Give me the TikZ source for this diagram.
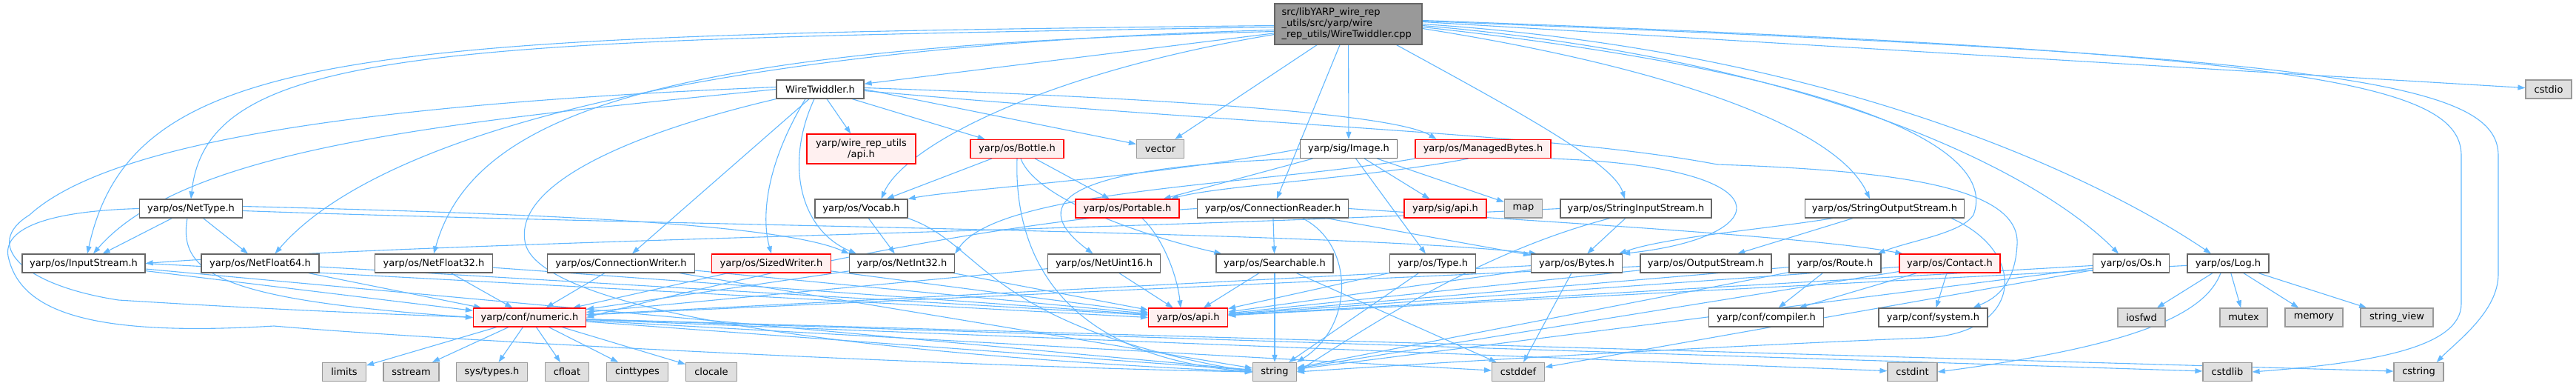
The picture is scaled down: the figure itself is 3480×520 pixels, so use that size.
\documentclass[tikz,border=0pt]{standalone}
\usepackage{fontspec}
\setmainfont{DejaVu Sans}
\usetikzlibrary{arrows.meta}
\pgfdeclarelayer{edges}
\pgfsetlayers{edges,main}
\definecolor{edgec}{HTML}{63B8FF}
\definecolor{gborder}{HTML}{666666}
\definecolor{xborder}{HTML}{999999}
\definecolor{xfill}{HTML}{E0E0E0}
\definecolor{rborder}{HTML}{FF0000}
\definecolor{rfill}{HTML}{FFF0F0}
\definecolor{rootfill}{HTML}{999999}
\tikzset{
  nd/.style={rectangle, draw=gborder, fill=white, line width=1.2pt, minimum height=25pt,
    inner sep=0pt, font=\fontsize{13pt}{15pt}\selectfont, anchor=center},
  wnode/.style={nd},
  rnode/.style={nd, draw=rborder, fill=rfill},
  xnode/.style={nd, draw=xborder, fill=xfill},
  rootnode/.style={nd, draw=gborder, fill=rootfill, align=left, text width=180pt, inner xsep=9.5pt, minimum height=55pt},
  e/.style={draw=edgec, line width=1.1pt, -{Triangle[length=10pt,width=7pt]}}
}
\begin{document}
\begin{tikzpicture}[x=1pt,y=-1pt]
\useasboundingbox (0,0) rectangle (3480,520);
% row 0
\node[rootnode] (root) at (1821.5,32.5) {src/libYARP\_wire\_rep\\\_utils/src/yarp/wire\\\_rep\_utils/WireTwiddler.cpp};
% row 1
\node[wnode, minimum width=118pt] (WT) at (1108,120.5) {WireTwiddler.h};
\node[xnode, minimum width=62pt] (cstdio) at (3443,120.5) {cstdio};
% row 2
\node[rnode, minimum width=147pt, minimum height=40pt, align=center] (wapi) at (1163.5,201) {yarp/wire\_rep\_utils\\/api.h};
\node[rnode, minimum width=126pt] (Bottle) at (1374,201) {yarp/os/Bottle.h};
\node[xnode, minimum width=64pt] (vector) at (1567.5,201) {vector};
\node[wnode, minimum width=131pt] (Image) at (1822,201) {yarp/sig/Image.h};
\node[rnode, minimum width=183pt] (MB) at (2003.5,201) {yarp/os/ManagedBytes.h};
% row 3
\node[wnode, minimum width=139pt] (NetType) at (258,281.5) {yarp/os/NetType.h};
\node[wnode, minimum width=125pt] (Vocab) at (1163.5,281.5) {yarp/os/Vocab.h};
\node[rnode, minimum width=140pt] (Portable) at (1523,281.5) {yarp/os/Portable.h};
\node[wnode, minimum width=204pt] (ConnReader) at (1719.5,281.5) {yarp/os/ConnectionReader.h};
\node[rnode, minimum width=111pt] (sigapi) at (1952.5,281.5) {yarp/sig/api.h};
\node[xnode, minimum width=51pt] (map) at (2058,281.5) {map};
\node[wnode, minimum width=204pt] (StrIn) at (2210,281.5) {yarp/os/StringInputStream.h};
\node[wnode, minimum width=215pt] (StrOut) at (2546,281.5) {yarp/os/StringOutputStream.h};
% row 4
\node[wnode, minimum width=166pt] (InputStream) at (113,355.5) {yarp/os/InputStream.h};
\node[wnode, minimum width=159pt] (NF64) at (351.5,355.5) {yarp/os/NetFloat64.h};
\node[wnode, minimum width=159pt] (NF32) at (586,355.5) {yarp/os/NetFloat32.h};
\node[wnode, minimum width=199pt] (ConnWriter) at (839,355.5) {yarp/os/ConnectionWriter.h};
\node[rnode, minimum width=161pt] (SizedWriter) at (1042,355.5) {yarp/os/SizedWriter.h};
\node[wnode, minimum width=142pt] (NetInt32) at (1218.5,355.5) {yarp/os/NetInt32.h};
\node[wnode, minimum width=152pt] (NetUint16) at (1491.5,355.5) {yarp/os/NetUint16.h};
\node[wnode, minimum width=158pt] (Searchable) at (1722,355.5) {yarp/os/Searchable.h};
\node[wnode, minimum width=116pt] (Type) at (1935.5,355.5) {yarp/os/Type.h};
\node[wnode, minimum width=123pt] (Bytes) at (2130,355.5) {yarp/os/Bytes.h};
\node[wnode, minimum width=177pt] (OutputStream) at (2304.5,355.5) {yarp/os/OutputStream.h};
\node[wnode, minimum width=124pt] (Route) at (2479,355.5) {yarp/os/Route.h};
\node[rnode, minimum width=136pt] (Contact) at (2634,355.5) {yarp/os/Contact.h};
\node[wnode, minimum width=103pt] (Os) at (2879,355.5) {yarp/os/Os.h};
\node[wnode, minimum width=110pt] (Log) at (3010,355.5) {yarp/os/Log.h};
% row 5
\node[rnode, minimum width=152pt] (numeric) at (715.5,428.5) {yarp/conf/numeric.h};
\node[rnode, minimum width=107pt] (osapi) at (1605,428.5) {yarp/os/api.h};
\node[wnode, minimum width=155pt] (compiler) at (2386,428.5) {yarp/conf/compiler.h};
\node[wnode, minimum width=147pt] (system) at (2611.5,428.5) {yarp/conf/system.h};
\node[xnode, minimum width=64pt] (iosfwd) at (2893,428.5) {iosfwd};
\node[xnode, minimum width=64pt] (mutex) at (3031,428.5) {mutex};
\node[xnode, minimum width=78pt] (memory) at (3126,428.5) {memory};
\node[xnode, minimum width=98pt] (stringview) at (3238,428.5) {string\_view};
% row 6
\node[xnode, minimum width=59pt] (limits) at (465,502) {limits};
\node[xnode, minimum width=75pt] (sstream) at (555.5,502) {sstream};
\node[xnode, minimum width=96pt] (systypes) at (664.5,502) {sys/types.h};
\node[xnode, minimum width=59pt] (cfloat) at (766,502) {cfloat};
\node[xnode, minimum width=83pt] (cinttypes) at (861,502) {cinttypes};
\node[xnode, minimum width=69pt] (clocale) at (961,502) {clocale};
\node[xnode, minimum width=59pt] (string) at (1722,502) {string};
\node[xnode, minimum width=71pt] (cstddef) at (2051,502) {cstddef};
\node[xnode, minimum width=67pt] (cstdint) at (2583.5,502) {cstdint};
\node[xnode, minimum width=66pt] (cstdlib) at (3009,502) {cstdlib};
\node[xnode, minimum width=67pt] (cstring) at (3267.5,502) {cstring};

\begin{pgfonlayer}{edges}
% root
\draw[e] (root) -- (WT);
\draw[e] ([yshift=-4pt]root.west) .. controls (600,55) and (280,60) .. (NetType.north);
\draw[e] ([yshift=-2pt]root.west) .. controls (500,48) and (180,60) .. ([xshift=5pt]InputStream.north);
\draw[e] ([yshift=-8pt]root.west) .. controls (1000,60) and (520,170) .. ([xshift=20pt]NF64.north);
\draw[e] ([yshift=-10pt]root.west) .. controls (900,62) and (640,150) .. (NF32.north);
\draw[e] ([yshift=-14pt]root.west) .. controls (1400,100) and (1220,200) .. ([xshift=27pt]Vocab.north);
\draw[e] (root) -- (vector);
\draw[e] (root) -- (Image);
\draw[e] (root) -- (ConnReader);
\draw[e] ([xshift=65pt]root.south) .. controls (2050,150) and (2180,220) .. ([xshift=-15pt]StrIn.north);
\draw[e] ([yshift=-6pt]root.east) .. controls (2250,90) and (2480,170) .. ([xshift=-20pt]StrOut.north);
\draw[e] ([yshift=-4pt]root.east) .. controls (2500,100) and (2700,200) .. (2666,290) .. controls (2650,315) and (2580,325) .. ([xshift=-5pt]Route.north east);
\draw[e] ([yshift=-2pt]root.east) .. controls (2450,80) and (2750,230) .. ([xshift=-17pt]Os.north);
\draw[e] (root.east) .. controls (2500,70) and (2850,250) .. ([xshift=-23pt]Log.north);
\draw[e] ([yshift=3pt]root.east) -- (cstdio);
\draw[e] ([yshift=5pt]root.east) .. controls (3100,70) and (3325,110) .. (3325,210) -- (3325,410) .. controls (3325,470) and (3200,490) .. (cstdlib.east);
\draw[e] ([yshift=4pt]root.east) .. controls (3150,75) and (3375,110) .. (3375,210) -- (3375,370) .. controls (3375,420) and (3320,460) .. ([xshift=-10pt]cstring.north east);
% WireTwiddler.h
\draw[e] (WT.west) .. controls (600,165) and (250,200) .. ([xshift=13pt]InputStream.north);
\draw[e] ([yshift=3pt]WT.west) .. controls (500,140) and (150,190) .. (40,290) .. controls (-25,330) and (30,385) .. (160,405) .. controls (400,420) and (560,425) .. (numeric.west);
\draw[e] (WT.south west) .. controls (850,180) and (690,250) .. (710,330) .. controls (730,400) and (1000,470) .. (string.west);
\draw[e] (WT) -- (ConnWriter);
\draw[e] ([xshift=-20pt]WT.south) .. controls (1030,230) and (1030,300) .. (SizedWriter.north);
\draw[e] ([xshift=-8pt]WT.south) .. controls (1060,220) and (1080,310) .. ([xshift=10pt]NetInt32.north west);
\draw[e] (WT) -- (wapi);
\draw[e] (WT) -- (Bottle);
\draw[e] (WT.east) -- (vector);
\draw[e] ([yshift=2pt]WT.east) .. controls (1500,130) and (1880,150) .. ([xshift=-63pt]MB.north);
\draw[e] ([yshift=-2pt]WT.east) .. controls (1700,170) and (2100,180) .. (2320,222) .. controls (2550,230) and (2730,250) .. (2725,330) .. controls (2722,390) and (2690,405) .. ([xshift=-20pt]system.north east);
% Bottle.h
\draw[e] (Bottle) -- (Vocab);
\draw[e] (Bottle) -- (Portable);
\draw[e] ([xshift=5pt]Bottle.south) .. controls (1400,270) and (1550,320) .. ([xshift=8pt]Searchable.north west);
\draw[e] (Bottle.south) .. controls (1370,330) and (1420,480) .. (string.west);
% Image.h
\draw[e] (Image.west) .. controls (1550,240) and (1300,255) .. (Vocab.north east);
\draw[e] (Image) -- (Portable);
\draw[e] (Image.south west) .. controls (1450,225) and (1380,270) .. ([xshift=-15pt]NetUint16.north);
\draw[e] (Image) -- (Type);
\draw[e] (Image) -- (sigapi);
\draw[e] (Image) -- (map);
% ManagedBytes.h
\draw[e] (MB.south west) .. controls (1700,250) and (1350,255) .. (NetInt32.north east);
\draw[e] ([xshift=-20pt]MB.south) .. controls (1850,240) and (1650,250) .. ([xshift=-12pt]Portable.north east);
\draw[e] (MB.south east) .. controls (2420,225) and (2400,320) .. (Bytes.north east);
% Vocab.h, Portable.h
\draw[e] (Vocab) -- (NetInt32);
\draw[e] (Vocab.south east) .. controls (1330,330) and (1330,440) .. (string.west);
\draw[e] ([xshift=20pt]Portable.south) .. controls (1570,320) and (1590,370) .. ([xshift=-10pt]osapi.north);
% ConnectionReader.h
\draw[e] (ConnReader) -- (Searchable);
\draw[e] (ConnReader) -- (Bytes);
\draw[e] (ConnReader.east) .. controls (2100,300) and (2450,320) .. ([xshift=5pt]Contact.north west);
\draw[e] ([xshift=40pt]ConnReader.south) .. controls (1830,330) and (1830,440) .. (string.north east);
\draw[e] (ConnReader.west) .. controls (1300,300) and (900,400) .. (numeric.east);
% StringInputStream.h
\draw[e] (StrIn.west) .. controls (1500,312) and (600,325) .. (InputStream.east);
\draw[e] (StrIn) -- (Bytes);
\draw[e] ([xshift=-35pt]StrIn.south) .. controls (2000,340) and (1850,440) .. (string.east);
% StringOutputStream.h
\draw[e] (StrOut) -- (OutputStream);
\draw[e] ([xshift=-70pt]StrOut.south) .. controls (2380,310) and (2250,320) .. ([xshift=-5pt]Bytes.north east);
\draw[e] ([xshift=90pt]StrOut.south) .. controls (2740,340) and (2735,450) .. (2600,456) .. controls (2300,468) and (1900,492) .. (string.east);
% NetType.h
\draw[e] (NetType) -- (InputStream);
\draw[e] (NetType) -- (NF64);
\draw[e] ([xshift=-5pt]NetType.south) .. controls (240,370) and (300,405) .. (numeric.west);
\draw[e] (NetType.west) .. controls (60,285) and (0,310) .. (12,350) .. controls (30,420) and (120,455) .. (370,440) .. controls (600,460) and (1300,495) .. (string.west);
\draw[e] ([yshift=3pt]NetType.east) .. controls (700,288) and (1050,300) .. (NetInt32.north west);
\draw[e] ([yshift=-3pt]NetType.east) .. controls (900,305) and (1800,312) .. ([xshift=8pt]Bytes.north west);
% row 4 sources
\draw[e] (InputStream) -- (numeric);
\draw[e] (InputStream.east) -- (osapi.west);
\draw[e] (InputStream) -- (string);
\draw[e] (NF64) -- (numeric);
\draw[e] (NF64) -- (osapi);
\draw[e] (NF32) -- (numeric);
\draw[e] (NF32) -- (osapi);
\draw[e] (ConnWriter) -- (numeric);
\draw[e] (ConnWriter) -- (osapi);
\draw[e] (ConnWriter) -- (string);
\draw[e] (SizedWriter) -- (numeric);
\draw[e] (SizedWriter) -- (osapi);
\draw[e] (NetInt32) -- (numeric);
\draw[e] (NetInt32) -- (osapi);
\draw[e] (NetUint16) -- (numeric);
\draw[e] (NetUint16) -- (osapi);
\draw[e] (Searchable) -- (osapi);
\draw[e] (Searchable) -- (string);
\draw[e] (Searchable) -- (cstddef);
\draw[e] (Type) -- (osapi);
\draw[e] (Type) -- (string);
\draw[e] (Bytes) -- (osapi);
\draw[e] (Bytes) -- (cstddef);
\draw[e] (Bytes) -- (numeric);
\draw[e] (OutputStream) -- (osapi);
\draw[e] (OutputStream) -- (numeric);
\draw[e] (Route) -- (osapi);
\draw[e] (Route) -- (compiler);
\draw[e] (Route) -- (string);
\draw[e] (Contact) -- (compiler);
\draw[e] (Contact) -- (system);
\draw[e] (Contact) -- (string);
\draw[e] (Contact) -- (osapi);
\draw[e] (Os) -- (osapi);
\draw[e] (Os) -- (string);
\draw[e] (Os) -- (cstddef);
\draw[e] (Log) -- (osapi);
\draw[e] (Log) -- (iosfwd);
\draw[e] (Log) -- (mutex);
\draw[e] (Log) -- (memory);
\draw[e] (Log) -- (stringview);
\draw[e] ([xshift=-10pt]Log.south) .. controls (2980,420) and (2900,465) .. (cstdint.east);
% numeric.h
\foreach \t in {limits,sstream,systypes,cfloat,cinttypes,clocale,string,cstddef,cstdint,cstdlib,cstring}
  \draw[e] (numeric) -- (\t);
\end{pgfonlayer}
\end{tikzpicture}
\end{document}
